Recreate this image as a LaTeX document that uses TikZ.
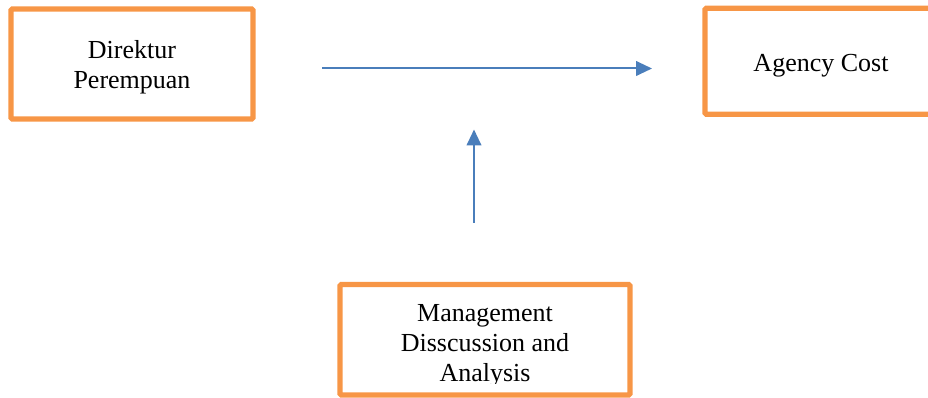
\documentclass[tikz,border=0pt]{standalone}
\usepackage{fontspec}
\setmainfont{Liberation Serif}
\usetikzlibrary{arrows.meta}
\definecolor{boxorange}{HTML}{F79646}
\definecolor{arrowblue}{HTML}{4A7EBB}
\begin{document}
\begin{tikzpicture}[x=0.75pt,y=-0.75pt,
  box/.style={draw=boxorange,line width=4pt,rounded corners=1pt,inner sep=0pt,fill=none},
  lbl/.style={inner sep=0pt,align=center,font=\fontsize{19.5pt}{22.5pt}\selectfont},
  arr/.style={draw=arrowblue,line width=1.5pt,-{Triangle[length=12pt,width=11pt]}}]
\useasboundingbox (0,0) rectangle (928,398);
\clip (0,0) rectangle (928,398);
% boxes
\node[box,minimum width=242*0.75pt,minimum height=110*0.75pt] (dir) at (132,64) {};
\node[box,minimum width=232*0.75pt,minimum height=106*0.75pt] (agc) at (821,61.25) {};
\node[box,minimum width=290*0.75pt,minimum height=110.5*0.75pt] (mda) at (485,339.75) {};
% texts
\node[lbl] (dirt) at (132,67.4) {Direktur\\Perempuan};
\node[lbl,anchor=base] (agct) at (821,71.7) {Agency Cost};
\begin{scope}
\clip (340,284) rectangle (630,384);
\node[lbl] (mdat) at (485,345.9) {Management\\Disscussion and\\Analysis};
\end{scope}
% arrows
\coordinate (h1) at (322,68.5);
\coordinate (h2) at (652,68.5);
\coordinate (v1) at (474,223);
\coordinate (v2) at (474,129.5);
\draw[arr] (h1) -- (h2);
\draw[arr] (v1) -- (v2);
\end{tikzpicture}
\end{document}
